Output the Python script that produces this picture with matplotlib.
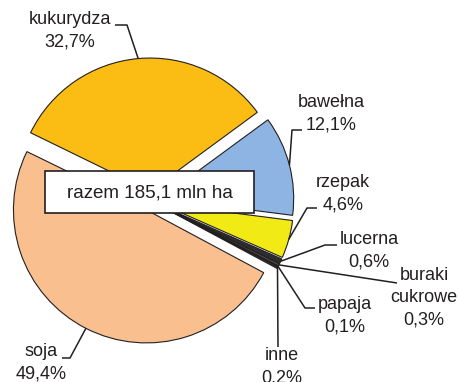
import matplotlib
matplotlib.use("Agg")
import matplotlib.pyplot as plt
from matplotlib.patches import Rectangle
import numpy as np

plt.rcParams['font.family'] = ['Liberation Sans', 'DejaVu Sans']

# Global crop area shares (%)
crops = ["kukurydza", "bawełna", "rzepak", "lucerna", "buraki\ncukrowe",
         "papaja", "inne", "soja"]
shares = [32.7, 12.1, 4.6, 0.6, 0.3, 0.1, 0.2, 49.4]
total_label = "razem 185,1 mln ha"

colors = ["#FBBD13", "#8DB4E2", "#F2EA15", "#2E2E2E", "#4C4C4C",
          "#6A6A6A", "#3A3A3A", "#F9BF8F"]
TXT = "#231F20"

# layout in pixel units (axes spans the whole figure, y grows downward)
W, H = 459, 382
center = (151, 201)
radius = 133
gap = 10  # explode offset, in data units

label_pos = [(70, 31), (331, 114), (343, 194), (369, 251), (424, 298),
             (345, 316), (282, 367), (41, 363)]
elbows = [[(127, 25), (115, 25)],
          [(292, 130), (302, 130)],
          [(307, 208), (317, 208)],
          [(325, 245), (337, 245)],
          [(397, 283)],
          [(305, 308), (315, 308)],
          [(278, 347)],
          [(70, 358), (62, 358)]]

fig = plt.figure(figsize=(W / 100, H / 100), dpi=100)
ax = fig.add_axes([0, 0, 1, 1])

wedges, _ = ax.pie(shares, colors=colors, explode=[gap] * len(shares),
                   startangle=-154, counterclock=True, center=center,
                   radius=radius, frame=True,
                   wedgeprops=dict(edgecolor=TXT, linewidth=0.8))

ax.set_xlim(0, W)
ax.set_ylim(H, 0)
ax.set_aspect('auto')
ax.axis('off')

for w, name, val, pos, elb in zip(wedges, crops, shares, label_pos, elbows):
    theta = np.deg2rad((w.theta1 + w.theta2) / 2)
    ax_x = center[0] + (gap + radius) * np.cos(theta)
    ax_y = center[1] + (gap + radius) * np.sin(theta)
    xs = [ax_x] + [p[0] for p in elb]
    ys = [ax_y] + [p[1] for p in elb]
    ax.plot(xs, ys, color=TXT, lw=1.1, solid_capstyle='butt', zorder=4)
    pct = f"{val:.1f}".replace(".", ",") + "%"
    ax.text(pos[0], pos[1], f"{name}\n{pct}", ha='center', va='center',
            fontsize=13, color=TXT, linespacing=1.4, zorder=5)

box = Rectangle((45, 171), 209, 42, facecolor='white', edgecolor=TXT,
                linewidth=1.2, zorder=6)
ax.add_patch(box)
ax.text(149.5, 192.5, total_label, ha='center', va='center', fontsize=13.5,
        color=TXT, zorder=7)

fig.savefig("out.png", dpi=100)
